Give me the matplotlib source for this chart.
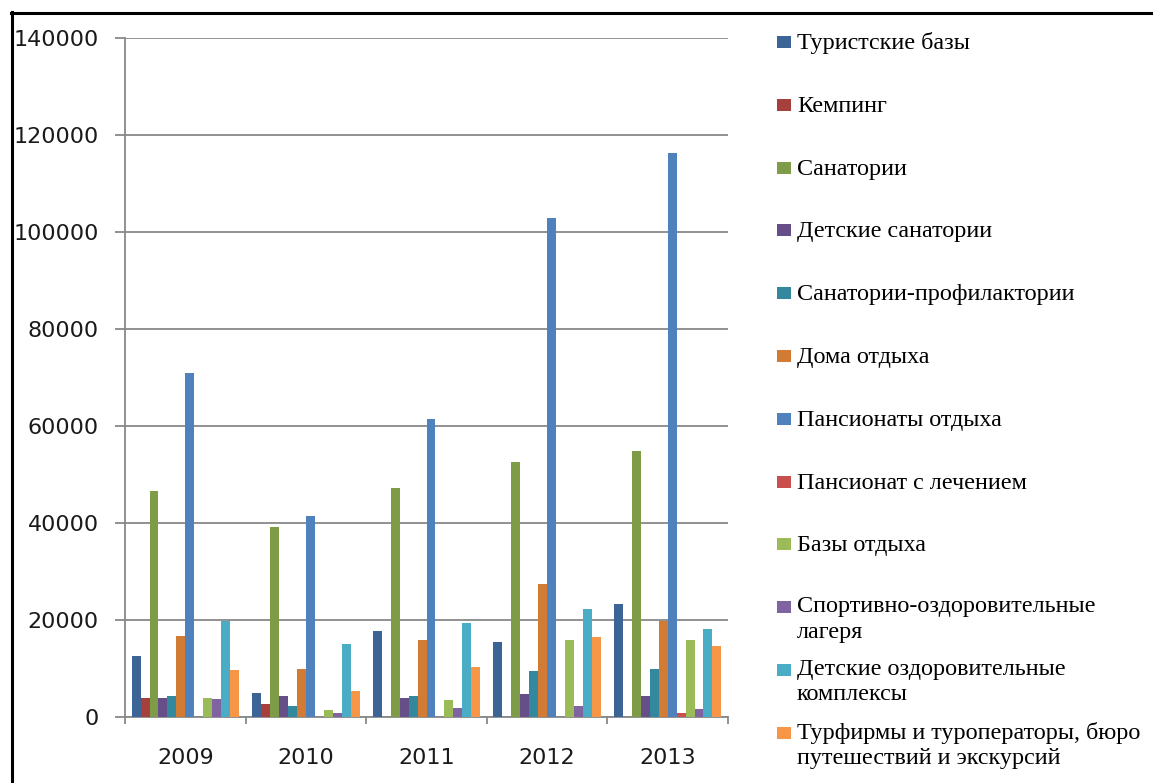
import matplotlib
matplotlib.use("Agg")
import matplotlib.pyplot as plt
import numpy as np
from matplotlib.patches import Rectangle
from matplotlib.lines import Line2D

years = ["2009", "2010", "2011", "2012", "2013"]
series_names = [
    "Туристские базы",
    "Кемпинг",
    "Санатории",
    "Детские санатории",
    "Санатории-профилактории",
    "Дома отдыха",
    "Пансионаты отдыха",
    "Пансионат с лечением",
    "Базы отдыха",
    "Спортивно-оздоровительные\nлагеря",
    "Детские оздоровительные\nкомплексы",
    "Турфирмы и туроператоры, бюро\nпутешествий и экскурсий",
]
turbazy = [12500, 4900, 17700, 15500, 23200]
kemping = [4000, 2750, 0, 0, 0]
sanatorii = [46700, 39200, 47300, 52600, 54800]
det_sanatorii = [4000, 4400, 4000, 4800, 4300]
san_prof = [4300, 2300, 4300, 9550, 10000]
doma_otdyha = [16800, 10000, 15800, 27500, 19800]
pansionaty = [70900, 41500, 61400, 102900, 116300]
pans_lech = [0, 0, 0, 0, 900]
bazy_otdyha = [4000, 1400, 3600, 15900, 15900]
sport_lagerya = [3700, 900, 1900, 2300, 1700]
det_kompleksy = [19800, 15100, 19300, 22300, 18100]
turfirmy = [9600, 5300, 10400, 16400, 14700]

values = [turbazy, kemping, sanatorii, det_sanatorii, san_prof, doma_otdyha,
          pansionaty, pans_lech, bazy_otdyha, sport_lagerya, det_kompleksy, turfirmy]
colors = ["#3D6497", "#A5403D", "#7E9B47", "#664F88", "#33889D", "#D27B35",
          "#4F81BD", "#C9504D", "#9BBB59", "#8064A2", "#4BACC6", "#F79646"]

W, H = 1153, 783
fig = plt.figure(figsize=(W / 100, H / 100), dpi=100)
fig.patch.set_facecolor("white")

left, right, top, bottom = 125, 728, 38, 717
ax = fig.add_axes([left / W, 1 - bottom / H, (right - left) / W, (bottom - top) / H])

n = len(values)
bw = 0.89 / n
x = np.arange(len(years))
for j, (vals, c) in enumerate(zip(values, colors)):
    ax.bar(x + (j - (n - 1) / 2) * bw, vals, width=bw, color=c, edgecolor="none", zorder=3)

ax.set_xlim(-0.5, len(years) - 0.5)
ax.set_ylim(0, 140000)
ax.set_yticks(np.arange(0, 140001, 20000))
ax.set_yticklabels([str(v) for v in range(0, 140001, 20000)])
ax.yaxis.grid(True, color="#888888", linewidth=1.3, zorder=0)
ax.set_xticks(x)
ax.set_xticklabels(years)
ax.set_xticks(np.arange(-0.5, len(years)), minor=True)
ax.tick_params(axis="x", which="major", length=0, pad=22, labelsize=16, labelcolor="#1a1a1a")
ax.tick_params(axis="x", which="minor", length=5, width=1.3, color="#888888", direction="out")
ax.tick_params(axis="y", which="major", length=7, width=1.3, color="#888888", pad=12,
               labelsize=16, labelcolor="#1a1a1a")
for s in ["top", "right"]:
    ax.spines[s].set_visible(False)
for s in ["left", "bottom"]:
    ax.spines[s].set_color("#888888")
    ax.spines[s].set_linewidth(1.3)

# legend drawn manually to keep the marker on the first text line
serif = ["Liberation Serif", "DejaVu Serif"]
y0 = 42
step = 62.8
for j, (name, c) in enumerate(zip(series_names, colors)):
    yc = y0 + j * step
    fig.add_artist(Rectangle((777 / W, 1 - (yc + 6) / H), 14 / W, 12 / H,
                             transform=fig.transFigure, facecolor=c, edgecolor="none"))
    if "\n" not in name:
        fig.text(797 / W, 1 - (yc - 1) / H, name, transform=fig.transFigure,
                 family=serif, fontsize=17.4, color="black",
                 va="center_baseline", ha="left")
    else:
        fig.text(797 / W, 1 - (yc - 11) / H, name, transform=fig.transFigure,
                 family=serif, fontsize=17.4, color="black",
                 va="top", ha="left", linespacing=1.27)

# outer frame (top and left edges visible)
fig.add_artist(Line2D([11 / W, 1], [1 - 13 / H, 1 - 13 / H], transform=fig.transFigure,
                      color="black", linewidth=2.2))
fig.add_artist(Line2D([12 / W, 12 / W], [1 - 12 / H, 0], transform=fig.transFigure,
                      color="black", linewidth=2.2))

fig.savefig("out.png", dpi=100, facecolor="white")
